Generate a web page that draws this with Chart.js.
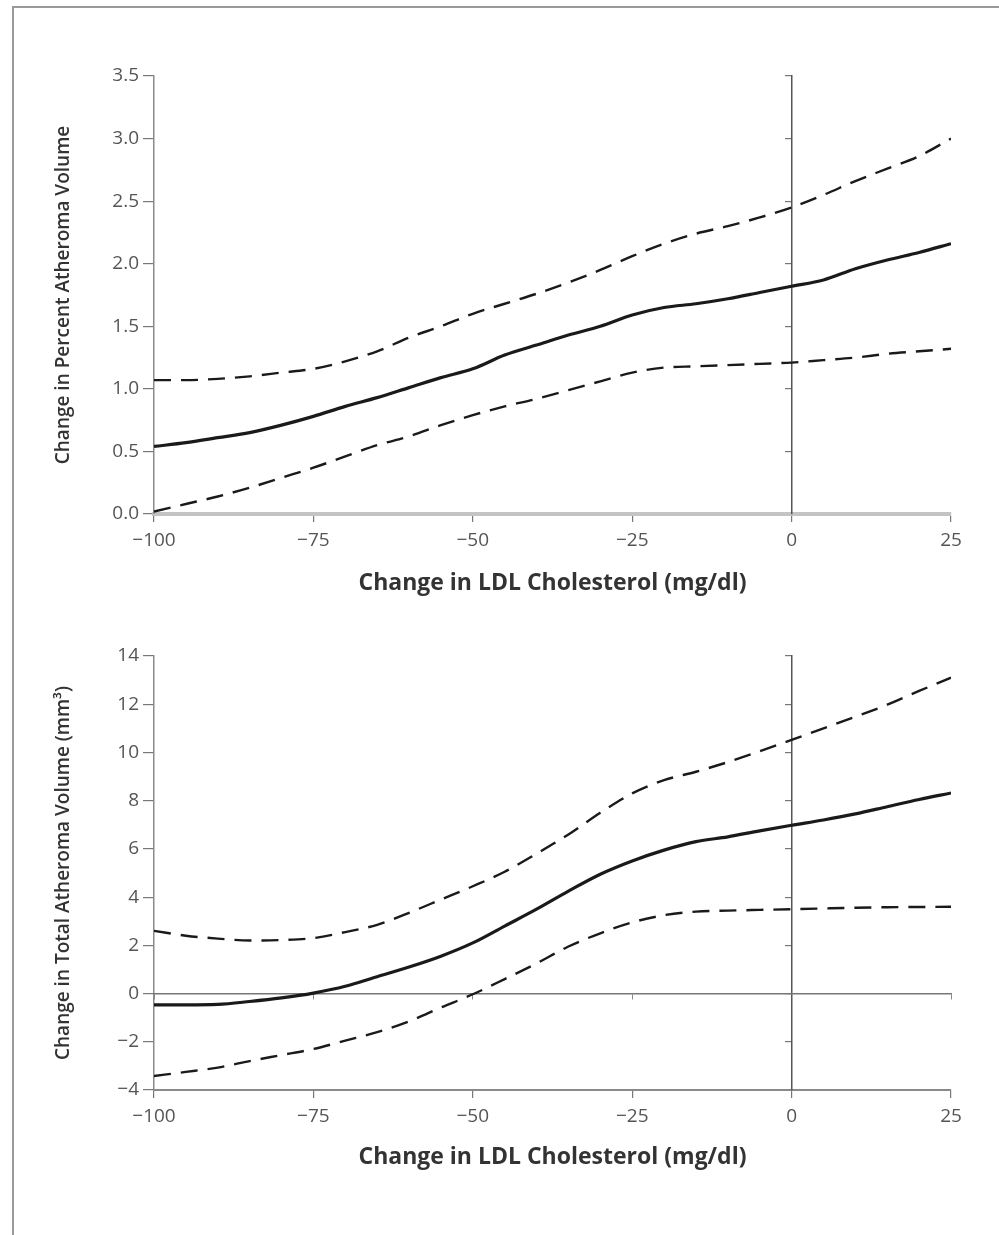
<!DOCTYPE html>
<html>
  <head>
    <meta charset="utf-8" />
    <title>LDL vs Atheroma Volume</title>
    <script src="https://cdn.jsdelivr.net/npm/chart.js"></script>
    <style>
      body { margin: 0; background: #fff; }
      .frame {
        position: absolute; left: 12px; top: 6px; width: 999px; height: 1240px;
        border-left: 2px solid #9a9a9a; border-top: 2px solid #9a9a9a;
      }
      canvas { position: absolute; left: 0; }
      #top_chart { top: 0; }
      #bottom_chart { top: 610px; }
    </style>
  </head>
  <body>
    <div class="frame"></div>
    <canvas id="top_chart" width="999" height="610"></canvas>
    <canvas id="bottom_chart" width="999" height="600"></canvas>

    <script>
      // x values (change in LDL cholesterol, mg/dl)
      var ldl = [-100, -95, -90, -85, -80, -75, -70, -65, -60, -55, -50, -45, -40,
                 -35, -30, -25, -20, -15, -10, -5, 0, 5, 10, 15, 20, 25];

      // percent atheroma volume
      var pav_fit = [0.54, 0.57, 0.61, 0.65, 0.71, 0.78, 0.86, 0.93, 1.01, 1.09, 1.16, 1.27, 1.35,
                     1.43, 1.50, 1.59, 1.65, 1.68, 1.72, 1.77, 1.82, 1.87, 1.96, 2.03, 2.09, 2.16];
      var pav_upper = [1.07, 1.07, 1.08, 1.10, 1.13, 1.16, 1.22, 1.30, 1.41, 1.50, 1.60, 1.68, 1.76,
                       1.85, 1.95, 2.06, 2.16, 2.24, 2.30, 2.37, 2.45, 2.55, 2.66, 2.76, 2.86, 3.00];
      var pav_lower = [0.02, 0.08, 0.14, 0.21, 0.29, 0.37, 0.46, 0.55, 0.62, 0.71, 0.79, 0.86, 0.92,
                       0.99, 1.06, 1.13, 1.17, 1.18, 1.19, 1.20, 1.21, 1.23, 1.25, 1.28, 1.30, 1.32];

      // total atheroma volume (mm3)
      var tav_fit = [-0.47, -0.47, -0.45, -0.33, -0.18, 0.02, 0.30, 0.70, 1.10, 1.55, 2.10, 2.80, 3.50,
                     4.25, 4.95, 5.50, 5.95, 6.30, 6.50, 6.75, 6.98, 7.20, 7.45, 7.75, 8.05, 8.32];
      var tav_upper = [2.60, 2.40, 2.28, 2.20, 2.22, 2.30, 2.55, 2.85, 3.35, 3.90, 4.45, 5.05, 5.80,
                       6.60, 7.50, 8.30, 8.85, 9.20, 9.60, 10.05, 10.52, 11.00, 11.48, 11.98, 12.55, 13.10];
      var tav_lower = [-3.42, -3.25, -3.07, -2.80, -2.55, -2.30, -1.95, -1.60, -1.15, -0.58, -0.03, 0.60, 1.25,
                       1.95, 2.50, 2.95, 3.25, 3.40, 3.44, 3.47, 3.50, 3.53, 3.56, 3.58, 3.59, 3.60];

      var x_title = "Change in LDL Cholesterol (mg/dl)";
      var pav_title = "Change in Percent Atheroma Volume";
      var tav_title = "Change in Total Atheroma Volume (mm\u00b3)";

      var FONT = "'Open Sans', 'DejaVu Sans', sans-serif";

      function pts(ys) {
        return ldl.map(function (x, i) { return { x: x, y: ys[i] }; });
      }
      function minus(v) {
        return String(v).replace("-", "\u2212");
      }

      function lineSet(ys, dashed) {
        return {
          data: pts(ys),
          borderColor: "#1a1a1a",
          borderWidth: dashed ? 2.4 : 3.2,
          borderDash: dashed ? [17, 10] : [],
          pointRadius: 0,
          cubicInterpolationMode: "monotone",
          fill: false,
          xAxisID: "x",
          yAxisID: "y",
        };
      }

      function createGraph(elementId, opt) {
        var ctx = document.getElementById(elementId).getContext("2d");
        var scales = {
          x: {
            type: "linear",
            min: -100, max: 25,
            afterFit: function (s) { s.height = opt.xHeight; },
            border: { color: opt.xBorder, width: opt.xBorderWidth },
            grid: { display: true, drawOnChartArea: false, tickLength: 8, color: "#777", lineWidth: 1.2 },
            ticks: {
              stepSize: 25, padding: 7, color: "#555",
              font: { family: FONT, size: 19 },
              callback: function (v) { return minus(v); },
            },
            title: {
              display: true, text: x_title, color: "#333",
              font: { family: FONT, size: 23, weight: "700" },
              padding: { top: 0, bottom: opt.xTitlePad },
            },
          },
          y: {
            type: "linear",
            min: opt.yMin, max: opt.yMax,
            afterFit: function (s) { s.width = 154; },
            border: { color: "#8a8a8a", width: 1.5 },
            grid: { display: true, drawOnChartArea: false, tickLength: 11, color: "#777", lineWidth: 1.2 },
            ticks: {
              stepSize: opt.yStep, padding: 4, color: "#555",
              font: { family: FONT, size: 19 },
              callback: function (v) { return minus(v.toFixed(opt.yDec)); },
            },
            title: {
              display: true, text: opt.yTitle, color: "#333",
              font: { family: FONT, size: 19, weight: "600" },
              padding: { top: 52, bottom: 0 },
            },
          },
          // vertical reference line at LDL change = 0
          y0: {
            type: "linear",
            position: { x: 0 },
            min: opt.yMin, max: opt.yMax,
            border: { color: "#555", width: 1.5 },
            grid: { display: true, drawOnChartArea: false, tickLength: 6, color: "#777", lineWidth: 1.2 },
            ticks: { stepSize: opt.yStep, display: false },
          },
        };
        if (opt.zeroLine) {
          // horizontal reference line at zero change
          scales.x0 = {
            type: "linear",
            position: { y: 0 },
            min: -100, max: 25,
            border: { color: "#777", width: 1.5 },
            grid: { display: true, drawOnChartArea: false, tickLength: 5, color: "#888", lineWidth: 1 },
            ticks: { stepSize: 25, display: false },
          };
        }
        new Chart(ctx, {
          type: "line",
          data: {
            datasets: [
              lineSet(opt.upper, true),
              lineSet(opt.lower, true),
              lineSet(opt.fit, false),
            ],
          },
          options: {
            responsive: false,
            animation: false,
            layout: { padding: { top: opt.padTop, right: 48, left: 0, bottom: 0 } },
            plugins: { legend: { display: false }, tooltip: { enabled: false } },
            scales: scales,
          },
        });
      }

      createGraph("top_chart", {
        fit: pav_fit, upper: pav_upper, lower: pav_lower,
        yMin: 0, yMax: 3.5, yStep: 0.5, yDec: 1, yTitle: pav_title,
        padTop: 76, xHeight: 96, xTitlePad: 13,
        xBorder: "#c4c4c4", xBorderWidth: 4, zeroLine: false,
      });

      createGraph("bottom_chart", {
        fit: tav_fit, upper: tav_upper, lower: tav_lower,
        yMin: -4, yMax: 14, yStep: 2, yDec: 0, yTitle: tav_title,
        padTop: 46, xHeight: 120, xTitlePad: 39,
        xBorder: "#8a8a8a", xBorderWidth: 2, zeroLine: true,
      });
    </script>
  </body>
</html>
